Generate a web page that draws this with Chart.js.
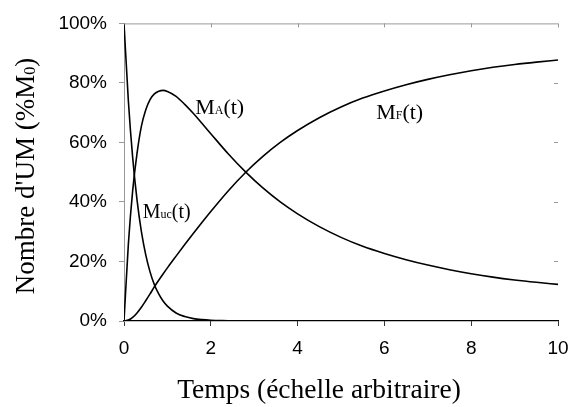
<!DOCTYPE html>
<html>
<head>
<meta charset="utf-8">
<script src="https://cdn.jsdelivr.net/npm/chart.js@4/dist/chart.umd.min.js"></script>
<style>
  html, body { margin: 0; padding: 0; background: #fff; }
</style>
</head>
<body>
<canvas id="chart" width="571" height="407"></canvas>
<script>
// time axis (arbitrary units) and the three populations, in % of M0
var times = [0, 0.1, 0.2, 0.3, 0.4, 0.5, 0.6, 0.7, 0.8, 0.9, 1.0, 1.2, 1.4, 1.6, 1.8, 2.0, 2.4,
             2.8, 3.2, 3.6, 4.0, 4.5, 5, 5.5, 6, 6.5, 7, 7.5, 8, 8.5, 9, 9.5, 10];
var mUC = [100, 74.1, 54.9, 40.7, 30.1, 22.3, 16.5, 12.2, 9.1, 6.7, 5, 2.7, 1.5, 0.8, 0.45, 0.25, 0.07,
           null, null, null, null, null, null, null, null, null, null, null, null, null, null, null, null];
var mA = [0, 25.7, 43.8, 56.3, 65.4, 70.9, 74.4, 76.3, 77.2, 77.5, 77.15, 75.5, 72.8, 69.7, 66.35, 62.95, 56.2,
          50.1, 44.7, 40, 36, 31.7, 28.1, 25.1, 22.7, 20.6, 18.8, 17.25, 15.9, 14.75, 13.8, 13, 12.3];
var mF = [0, 0.3, 1.2, 2.7, 4.6, 6.8, 9.1, 11.5, 13.7, 15.8, 17.85, 21.8, 25.7, 29.5, 33.2, 36.8, 43.7,
          49.9, 55.3, 60, 64, 68.3, 71.9, 74.9, 77.3, 79.4, 81.2, 82.75, 84.1, 85.25, 86.2, 87, 87.7];

var xTicks = [0, 2, 4, 6, 8, 10];
var yTicks = [0, 20, 40, 60, 80, 100];

var serif = "'Liberation Serif', 'Times New Roman', serif";
var sans = "'Liberation Sans', Arial, sans-serif";

function points(vals) {
  return times.map(function(t, i) { return { x: t, y: vals[i] }; });
}

function lineSet(label, vals) {
  return {
    label: label,
    data: points(vals),
    borderColor: '#000',
    borderWidth: 1.6,
    pointRadius: 0,
    fill: false,
    cubicInterpolationMode: 'monotone',
    spanGaps: false
  };
}

// draw a run of text pieces with different sizes on one baseline
function drawParts(ctx, parts, x, y, align) {
  var total = 0;
  parts.forEach(function(p) {
    ctx.font = p[1] + 'px ' + serif;
    p.w = ctx.measureText(p[0]).width;
    total += p.w;
  });
  var cx = align === 'center' ? x - total / 2 : x;
  ctx.textAlign = 'left';
  ctx.textBaseline = 'alphabetic';
  parts.forEach(function(p) {
    ctx.font = p[1] + 'px ' + serif;
    ctx.fillText(p[0], cx, y + (p[2] || 0));
    cx += p.w;
  });
}

var decor = {
  id: 'decor',
  afterDraw: function(chart) {
    var ctx = chart.ctx, a = chart.chartArea;
    var xs = chart.scales.x, ys = chart.scales.y;
    ctx.save();

    // top frame line and mirrored ticks on top / right
    ctx.strokeStyle = '#999';
    ctx.lineWidth = 1;
    ctx.beginPath();
    ctx.moveTo(a.left, a.top + 0.5);
    ctx.lineTo(a.right, a.top + 0.5);
    xTicks.forEach(function(v) {
      if (v === 0) return;
      var px = Math.round(xs.getPixelForValue(v)) + 0.5;
      ctx.moveTo(px, a.top);
      ctx.lineTo(px, a.top + 4);
    });
    yTicks.forEach(function(v) {
      if (v === 0 || v === 100) return;
      var py = Math.round(ys.getPixelForValue(v)) + 0.5;
      ctx.moveTo(a.right - 4, py);
      ctx.lineTo(a.right, py);
    });
    ctx.stroke();

    // curve labels
    ctx.fillStyle = '#000';
    drawParts(ctx, [['M', 22], ['A', 12], ['(t)', 22]],
      xs.getPixelForValue(1.64), ys.getPixelForValue(69.6), 'left');
    drawParts(ctx, [['M', 22], ['F', 12], ['(t)', 22]],
      xs.getPixelForValue(5.81), ys.getPixelForValue(68), 'left');
    drawParts(ctx, [['M', 20], ['uc', 12], ['(t)', 20]],
      xs.getPixelForValue(0.43), ys.getPixelForValue(34.5), 'left');

    // axis titles
    drawParts(ctx, [['Temps (échelle arbitraire)', 27.5]], 319, 398, 'center');
    ctx.translate(33.5, 176);
    ctx.rotate(-Math.PI / 2);
    drawParts(ctx, [["Nombre d'UM (%M", 27], ['0', 16, 1], [')', 27]], 0, 0, 'center');

    ctx.restore();
  }
};

var ctx = document.getElementById('chart').getContext('2d');
var chart = new Chart(ctx, {
  type: 'line',
  data: {
    datasets: [
      lineSet('Muc(t)', mUC),
      lineSet('MA(t)', mA),
      lineSet('MF(t)', mF)
    ]
  },
  options: {
    responsive: false,
    animation: false,
    layout: { padding: { top: 18, right: 13, left: 0, bottom: 0 } },
    plugins: {
      legend: { display: false },
      tooltip: { enabled: false }
    },
    scales: {
      x: {
        type: 'linear',
        min: 0,
        max: 10,
        afterFit: function(s) {
          s.height = 86;
          s.paddingLeft = 0;
          s.paddingRight = 0;
        },
        afterBuildTicks: function(s) { s.ticks = xTicks.map(function(v) { return { value: v }; }); },
        border: { color: '#000', width: 1.2 },
        grid: { drawOnChartArea: false, tickLength: 5, tickColor: '#333' },
        ticks: {
          color: '#000',
          padding: 11,
          maxRotation: 0,
          font: { family: sans, size: 19 }
        }
      },
      y: {
        min: 0,
        max: 100,
        afterFit: function(s) { s.width = 124; },
        afterBuildTicks: function(s) { s.ticks = yTicks.map(function(v) { return { value: v }; }); },
        border: { color: '#999', width: 1 },
        grid: { drawOnChartArea: false, tickLength: 5, tickColor: '#999' },
        ticks: {
          color: '#000',
          padding: 12,
          font: { family: sans, size: 19 },
          callback: function(v) { return v + '%'; }
        }
      }
    }
  },
  plugins: [decor]
});
</script>
</body>
</html>
